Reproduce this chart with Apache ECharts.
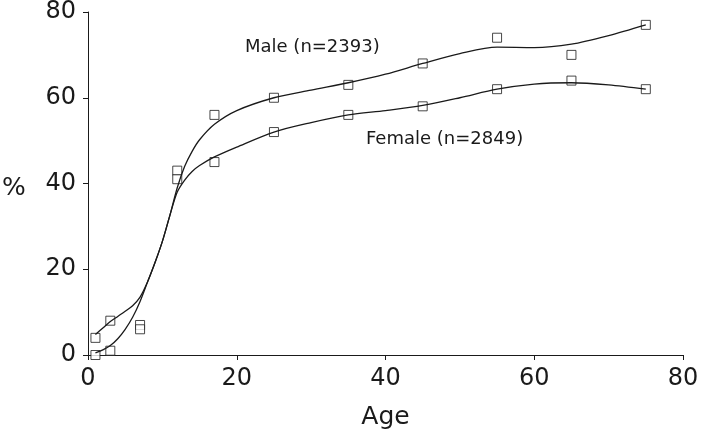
<!DOCTYPE html>
<html>
<head>
<meta charset="utf-8">
<script src="https://cdn.jsdelivr.net/npm/echarts@6/dist/echarts.min.js"></script>
<style>
  html, body { margin: 0; padding: 0; background: #fff; }
  #chart { width: 720px; height: 445px; }
</style>
</head>
<body>
<div id="chart"></div>
<script>
// observed points (age, %)
var pointAges = [1, 3, 7, 12, 17, 25, 35, 45, 55, 65, 75];
var malePoints = [4, 8, 7, 43, 56, 60, 63, 68, 74, 70, 77];
var femalePoints = [0, 1, 6, 41, 45, 52, 56, 58, 62, 64, 62];

// fitted curves
var curveAges = [1, 2, 3, 4, 5, 6, 7, 8, 9, 10, 11, 12, 13, 14, 15, 17, 20, 25, 30, 35, 40, 45, 50, 55, 60, 65, 70, 75];
var maleCurve = [4.8, 6.3, 7.8, 9, 10.2, 11.5, 13.5, 17, 21.5, 26.5, 32.5, 39, 44, 47.5, 50.2, 53.8, 57, 60, 61.8, 63.5, 65.5, 68, 70.3, 71.8, 71.7, 72.5, 74.5, 77];
var femaleCurve = [0.5, 1.2, 2.2, 3.8, 6, 8.8, 12.5, 17, 21.5, 26.5, 32.5, 38, 40.8, 42.8, 44.2, 46.2, 48.5, 52, 54.2, 56, 57, 58.2, 60, 62, 63.2, 63.5, 63, 62];

var xTicks = [0, 20, 40, 60, 80];
var yTicks = [0, 20, 40, 60, 80];

function pairs(xs, ys) {
    return xs.map(function (x, i) { return [x, ys[i]]; });
}

var ink = "#1a1a1a";
var font = "DejaVu Sans";
var chart = echarts.init(document.getElementById("chart"));
chart.setOption({
    animation: false,
    backgroundColor: "#fff",
    textStyle: {fontFamily: font},
    grid: {left: 88, right: 37, top: 11, bottom: 90},
    xAxis: {
        type: "value",
        min: xTicks[0],
        max: xTicks[xTicks.length - 1],
        interval: 20,
        name: "Age",
        nameLocation: "middle",
        nameGap: 50,
        nameTextStyle: {color: ink, fontSize: 25, fontFamily: font},
        axisLine: {onZero: false, lineStyle: {color: ink, width: 1}},
        axisTick: {length: 5, lineStyle: {color: ink}},
        axisLabel: {color: ink, fontSize: 24, margin: 12, fontFamily: font},
        splitLine: {show: false}
    },
    yAxis: {
        type: "value",
        min: yTicks[0],
        max: yTicks[yTicks.length - 1],
        interval: 20,
        axisLine: {show: true, lineStyle: {color: ink, width: 1}},
        axisTick: {show: true, length: 5, lineStyle: {color: ink}},
        axisLabel: {color: ink, fontSize: 24, margin: 12, fontFamily: font},
        splitLine: {show: false}
    },
    graphic: [
        {type: "text", left: 2, top: 176, style: {text: "%", fontSize: 25, fill: ink, fontFamily: font}},
        {type: "text", left: 245, top: 38, style: {text: "Male (n=2393)", fontSize: 18, fill: ink, fontFamily: font}},
        {type: "text", left: 366, top: 130, style: {text: "Female (n=2849)", fontSize: 18, fill: ink, fontFamily: font}}
    ],
    series: [
        {
            name: "Male curve", type: "line", smooth: 0.3, showSymbol: false,
            lineStyle: {color: ink, width: 1.3},
            data: pairs(curveAges, maleCurve)
        },
        {
            name: "Female curve", type: "line", smooth: 0.3, showSymbol: false,
            lineStyle: {color: ink, width: 1.3},
            data: pairs(curveAges, femaleCurve)
        },
        {
            name: "Male", type: "scatter", symbol: "rect", symbolSize: 9,
            itemStyle: {color: "#fff", borderColor: ink, borderWidth: 1},
            data: pairs(pointAges, malePoints)
        },
        {
            name: "Female", type: "scatter", symbol: "rect", symbolSize: 9,
            itemStyle: {color: "#fff", borderColor: ink, borderWidth: 1},
            data: pairs(pointAges, femalePoints)
        }
    ]
});
</script>
</body>
</html>
